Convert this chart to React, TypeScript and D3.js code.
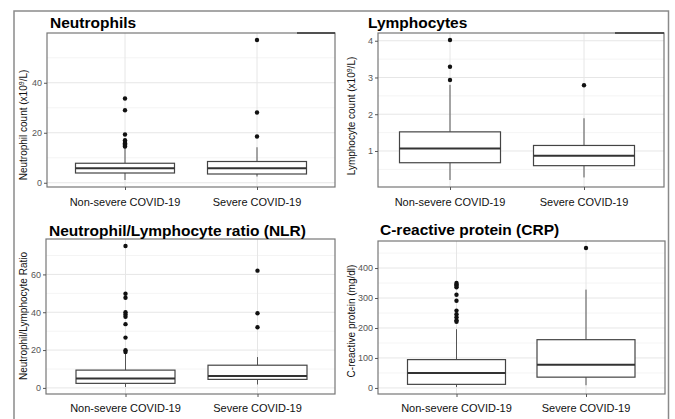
import React, { useEffect, useRef } from "react";
import * as d3 from "d3";

const groups = ["Non-severe COVID-19", "Severe COVID-19"];

// box stats per group: [lower whisker, q1, median, q3, upper whisker]
const neutrophilBoxes = [[1.1, 3.9, 5.8, 7.8, 14.2], [2.5, 3.5, 5.8, 8.5, 14.2]];
const neutrophilOutliers = [[33.7, 29.0, 19.3, 17.0, 16.3, 15.8, 15.3, 14.8, 14.5], [57.1, 28.1, 18.5]];
const neutrophilTicks = [0, 20, 40];
const neutrophilMinor = [10, 30, 50];

const lymphocyteBoxes = [[0.21, 0.68, 1.07, 1.52, 2.8], [0.28, 0.6, 0.87, 1.15, 1.89]];
const lymphocyteOutliers = [[4.02, 3.29, 2.93], [2.79]];
const lymphocyteTicks = [1, 2, 3, 4];
const lymphocyteMinor = [0.5, 1.5, 2.5, 3.5];

const nlrBoxes = [[0.5, 2.4, 5.0, 9.4, 18.0], [1.8, 4.5, 6.3, 12.0, 16.3]];
const nlrOutliers = [[75.0, 49.8, 47.7, 40.0, 38.8, 37.6, 33.7, 26.6, 19.9, 19.0], [62.0, 39.5, 32.1]];
const nlrTicks = [0, 20, 40, 60];
const nlrMinor = [10, 30, 50, 70];

const crpBoxes = [[3, 12, 50, 94.5, 196], [9, 36, 77, 161, 328]];
const crpOutliers = [[350, 345, 341, 336, 311, 291, 258, 246, 236, 226, 221], [467]];
const crpTicks = [0, 100, 200, 300, 400];
const crpMinor = [50, 150, 250, 350, 450];

const FONT = "'Liberation Sans', Arial, sans-serif";

// y label pieces: [text, superscript, text]
const panels = [
  {
    title: "Neutrophils", yLabel: ["Neutrophil count (x10", "9", "/L)"],
    boxes: neutrophilBoxes, outliers: neutrophilOutliers, ticks: neutrophilTicks, minor: neutrophilMinor,
    x0: 47, x1: 335, y0: 33, y1: 187, centers: [125, 257], boxW: 99,
    titleX: 50, titleY: 28, yLabX: 27, yLabY: 125, xLabY: 206, mark: [297, 335],
  },
  {
    title: "Lymphocytes", yLabel: ["Lymphocyte count (x10", "9", "/L)"],
    boxes: lymphocyteBoxes, outliers: lymphocyteOutliers, ticks: lymphocyteTicks, minor: lymphocyteMinor,
    x0: 378, x1: 664, y0: 33, y1: 187, centers: [450, 584], boxW: 101,
    titleX: 368, titleY: 28, yLabX: 355, yLabY: 116, xLabY: 206, mark: [615, 664],
  },
  {
    title: "Neutrophil/Lymphocyte ratio (NLR)", yLabel: ["Neutrophil/Lymphocyte Ratio", "", ""],
    boxes: nlrBoxes, outliers: nlrOutliers, ticks: nlrTicks, minor: nlrMinor,
    x0: 46, x1: 335, y0: 239, y1: 394, centers: [125.5, 257.5], boxW: 99,
    titleX: 49, titleY: 236, yLabX: 27, yLabY: 316, xLabY: 412, mark: null,
  },
  {
    title: "C-reactive protein (CRP)", yLabel: ["C-reactive protein (mg/dl)", "", ""],
    boxes: crpBoxes, outliers: crpOutliers, ticks: crpTicks, minor: crpMinor,
    x0: 378, x1: 665, y0: 241, y1: 394, centers: [456.5, 586], boxW: 98,
    titleX: 380, titleY: 235, yLabX: 355, yLabY: 321, xLabY: 412, mark: null,
  },
];

function drawPanel(svg, p) {
  const all = p.boxes.flat().concat(p.outliers.flat());
  const [lo, hi] = d3.extent(all);
  const pad = (hi - lo) * 0.05;

  const y = d3.scaleLinear().domain([lo - pad, hi + pad]).range([p.y1, p.y0]);
  const x = d3.scalePoint().domain(groups).range(p.centers);

  const g = svg.append("g");

  g.append("rect")
    .attr("x", p.x0).attr("y", p.y0)
    .attr("width", p.x1 - p.x0).attr("height", p.y1 - p.y0)
    .attr("fill", "white");

  // grid
  g.selectAll(".minor").data(p.minor.filter(v => y(v) > p.y0 && y(v) < p.y1)).join("line")
    .attr("x1", p.x0).attr("x2", p.x1)
    .attr("y1", d => y(d)).attr("y2", d => y(d))
    .attr("stroke", "#f1f1f1").attr("stroke-width", 0.8);
  g.selectAll(".major").data(p.ticks).join("line")
    .attr("x1", p.x0).attr("x2", p.x1)
    .attr("y1", d => y(d)).attr("y2", d => y(d))
    .attr("stroke", "#e6e6e6").attr("stroke-width", 1);
  g.selectAll(".vgrid").data(groups).join("line")
    .attr("x1", d => x(d)).attr("x2", d => x(d))
    .attr("y1", p.y0).attr("y2", p.y1)
    .attr("stroke", "#e6e6e6").attr("stroke-width", 1);

  // boxes
  groups.forEach((grp, i) => {
    const [wl, q1, med, q3, wh] = p.boxes[i];
    const cx = x(grp);
    const bw = p.boxW;
    g.append("line").attr("x1", cx).attr("x2", cx).attr("y1", y(wl)).attr("y2", y(q1))
      .attr("stroke", "#555").attr("stroke-width", 1);
    g.append("line").attr("x1", cx).attr("x2", cx).attr("y1", y(q3)).attr("y2", y(wh))
      .attr("stroke", "#555").attr("stroke-width", 1);
    g.append("rect")
      .attr("x", cx - bw / 2).attr("y", y(q3))
      .attr("width", bw).attr("height", y(q1) - y(q3))
      .attr("fill", "white").attr("stroke", "#444").attr("stroke-width", 1.2);
    g.append("line").attr("x1", cx - bw / 2).attr("x2", cx + bw / 2)
      .attr("y1", y(med)).attr("y2", y(med))
      .attr("stroke", "#333").attr("stroke-width", 2);
    g.selectAll(null).data(p.outliers[i]).join("circle")
      .attr("cx", cx).attr("cy", d => y(d)).attr("r", 2.2)
      .attr("fill", "#111");
  });

  // panel border
  g.append("rect")
    .attr("x", p.x0).attr("y", p.y0)
    .attr("width", p.x1 - p.x0).attr("height", p.y1 - p.y0)
    .attr("fill", "none").attr("stroke", "#777").attr("stroke-width", 1.2);
  if (p.mark) {
    g.append("line").attr("x1", p.mark[0]).attr("x2", p.mark[1])
      .attr("y1", p.y0).attr("y2", p.y0)
      .attr("stroke", "#333").attr("stroke-width", 1.5);
  }

  // y axis
  const yAxis = g.append("g")
    .attr("transform", `translate(${p.x0},0)`)
    .call(d3.axisLeft(y).tickValues(p.ticks).tickFormat(d3.format("d")).tickSize(3).tickPadding(2));
  yAxis.select(".domain").remove();
  yAxis.selectAll("line").attr("stroke", "#555");
  yAxis.selectAll("text").attr("fill", "#555").attr("font-size", 9).attr("font-family", FONT);

  // x axis
  const xAxis = g.append("g")
    .attr("transform", `translate(0,${p.y1})`)
    .call(d3.axisBottom(x).tickSize(3).tickPadding(0));
  xAxis.select(".domain").remove();
  xAxis.selectAll("line").attr("stroke", "#555");
  xAxis.selectAll("text").remove();
  g.selectAll(".xlab").data(groups).join("text")
    .attr("x", d => x(d)).attr("y", p.xLabY)
    .attr("text-anchor", "middle")
    .attr("font-size", 11).attr("font-family", FONT).attr("fill", "#111")
    .text(d => d);

  // titles
  g.append("text")
    .attr("x", p.titleX).attr("y", p.titleY)
    .attr("font-size", 15.5).attr("font-weight", "bold").attr("font-family", FONT)
    .attr("fill", "#000")
    .text(p.title);
  const yl = g.append("text")
    .attr("transform", `translate(${p.yLabX},${p.yLabY}) rotate(-90)`)
    .attr("text-anchor", "middle")
    .attr("font-size", 10).attr("font-family", FONT).attr("fill", "#111");
  yl.append("tspan").text(p.yLabel[0]);
  if (p.yLabel[1]) {
    yl.append("tspan").attr("dy", -3.5).attr("font-size", 7).text(p.yLabel[1]);
    yl.append("tspan").attr("dy", 3.5).text(p.yLabel[2]);
  }
}

export default function App() {
  const ref = useRef(null);

  useEffect(() => {
    const svg = d3.select(ref.current);
    svg.selectAll("*").remove();

    svg.append("rect").attr("width", 675).attr("height", 419).attr("fill", "white");
    svg.append("rect")
      .attr("x", 14).attr("y", 11).attr("width", 654.5).attr("height", 420)
      .attr("fill", "none").attr("stroke", "#8a8a8a").attr("stroke-width", 1.5);

    panels.forEach(p => drawPanel(svg, p));
  }, []);

  return (
    <svg ref={ref} width={675} height={419}
      style={{ position: "absolute", left: 0, top: 0, display: "block" }} />
  );
}
